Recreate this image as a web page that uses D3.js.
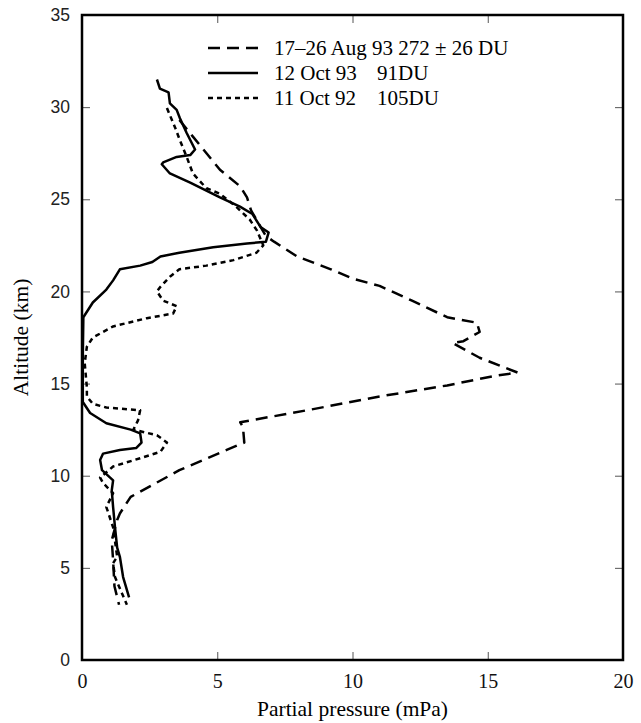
<!DOCTYPE html>
<html>
<head>
<meta charset="utf-8">
<script src="https://cdn.jsdelivr.net/npm/d3@7"></script>
<style>
  body { margin: 0; background: #fff; }
  .tick line { stroke: #555; stroke-width: 1; }
</style>
</head>
<body>
<div id="chart"></div>
<script>
const width = 641
const height = 723
const margin = { top: 15, right: 18, bottom: 63, left: 82 }

// [partial pressure (mPa), altitude (km)]
const aug93 = [
  [3.6, 29.3], [4.1, 28.4], [5.1, 26.6], [5.85, 25.7], [6.1, 25.1], [6.25, 24.4],
  [6.8, 23.0], [7.1, 22.7], [7.95, 21.9], [9.2, 21.2], [10.0, 20.7], [11.0, 20.3],
  [12.2, 19.5], [13.5, 18.6], [14.6, 18.3], [14.7, 17.8], [14.1, 17.3], [13.7, 17.2],
  [14.7, 16.4], [16.1, 15.6], [15.2, 15.4], [13.5, 14.9], [11.0, 14.3], [8.5, 13.6],
  [5.85, 12.9], [5.95, 12.65], [6.0, 11.8], [5.35, 11.4], [3.6, 10.3], [1.8, 8.85],
  [1.4, 7.95], [1.3, 7.6], [1.1, 6.5], [1.15, 5.4], [1.2, 4.0], [1.37, 3.0]
]
const oct93 = [
  [2.77, 31.5], [2.88, 31.0], [3.2, 30.8], [3.25, 30.2], [3.5, 29.85], [3.62, 29.4],
  [3.87, 28.6], [4.18, 27.7], [4.0, 27.4], [3.5, 27.3], [3.0, 27.0], [2.95, 26.9],
  [3.25, 26.4], [4.0, 25.9], [5.1, 25.1], [5.84, 24.6], [6.3, 24.2], [6.6, 23.5],
  [6.9, 23.2], [6.8, 22.7], [6.1, 22.6], [4.85, 22.4], [3.6, 22.1], [2.9, 21.9],
  [2.6, 21.6], [2.15, 21.4], [1.4, 21.2], [1.15, 20.6], [0.9, 20.1], [0.4, 19.4],
  [0.05, 18.6], [0.03, 16.5], [0.03, 14.0], [0.3, 13.4], [0.9, 12.85], [1.8, 12.5],
  [2.15, 12.3], [2.2, 11.8], [2.0, 11.5], [1.4, 11.4], [0.78, 11.2], [0.67, 10.85],
  [0.74, 10.3], [1.04, 9.9], [1.15, 9.75], [1.1, 9.2], [1.15, 8.3], [1.22, 7.2],
  [1.3, 6.1], [1.4, 5.6], [1.52, 4.5], [1.74, 3.4]
]
const oct92 = [
  [3.14, 29.95], [3.44, 28.9], [3.62, 28.2], [3.87, 27.3], [4.1, 26.4], [4.6, 25.6],
  [5.1, 25.3], [5.7, 24.6], [6.2, 23.9], [6.47, 23.3], [6.7, 22.5], [6.45, 22.1],
  [5.6, 21.7], [4.6, 21.4], [3.6, 21.2], [3.25, 20.8], [2.9, 20.25], [2.77, 20.0],
  [3.0, 19.5], [3.5, 19.2], [3.37, 18.8], [2.4, 18.55], [1.15, 18.1], [0.4, 17.5],
  [0.18, 17.0], [0.1, 16.1], [0.18, 14.8], [0.18, 14.3], [0.4, 13.9], [0.9, 13.7],
  [2.15, 13.55], [2.07, 13.0], [1.9, 12.5], [2.77, 12.2], [3.14, 11.8], [2.9, 11.3],
  [2.15, 10.95], [1.15, 10.5], [0.67, 9.9], [0.78, 9.6], [1.15, 9.05], [0.9, 8.3],
  [1.15, 7.2], [1.3, 5.6], [1.15, 5.25], [1.22, 4.5], [1.66, 3.0]
]

const xTicks = [0, 5, 10, 15, 20]
const yTicks = [0, 5, 10, 15, 20, 25, 30, 35]

const legendRows = [
  { label: '17–26 Aug 93 272 ± 26 DU', extra: '', dash: '12,7' },
  { label: '12 Oct 93', extra: '91DU', dash: null },
  { label: '11 Oct 92', extra: '105DU', dash: '5,4' }
]

const x = d3.scaleLinear().domain([0, 20]).range([margin.left, width - margin.right])
const y = d3.scaleLinear().domain([0, 35]).range([height - margin.bottom, margin.top])

const svg = d3.select('#chart').append('svg')
  .attr('width', width)
  .attr('height', height)

const serif = '"Liberation Serif", "Times New Roman", serif'
const sans = '"Liberation Sans", Arial, sans-serif'

// ticks (inward)
svg.append('g')
  .attr('transform', `translate(0,${y(0)})`)
  .call(d3.axisBottom(x).tickValues(xTicks).tickSize(-8).tickPadding(14))
  .call(g => g.select('.domain').remove())
  .call(g => g.selectAll('text').style('font-family', serif).style('font-size', '20px').attr('fill', '#111'))

svg.append('g')
  .attr('transform', `translate(0,${y(35)})`)
  .call(d3.axisTop(x).tickValues([5, 10, 15]).tickSize(-8).tickFormat(''))
  .call(g => g.select('.domain').remove())

svg.append('g')
  .attr('transform', `translate(${x(0)},0)`)
  .call(d3.axisLeft(y).tickValues(yTicks).tickSize(-8).tickPadding(12))
  .call(g => g.select('.domain').remove())
  .call(g => g.selectAll('text').style('font-family', sans).style('font-size', '17.5px').attr('fill', '#222'))

svg.append('g')
  .attr('transform', `translate(${x(20)},0)`)
  .call(d3.axisRight(y).tickValues([5, 10, 15, 20, 25, 30]).tickSize(-8).tickFormat(''))
  .call(g => g.select('.domain').remove())

// frame
svg.append('rect')
  .attr('x', x(0))
  .attr('y', y(35))
  .attr('width', x(20) - x(0))
  .attr('height', y(0) - y(35))
  .attr('fill', 'none')
  .attr('stroke', '#000')
  .attr('stroke-width', 2.5)

const line = d3.line().x(d => x(d[0])).y(d => y(d[1]))

const series = [
  { data: aug93, dash: '12,7' },
  { data: oct93, dash: null },
  { data: oct92, dash: '5,4' }
]

svg.selectAll('path.profile').data(series).enter()
  .append('path')
  .classed('profile', true)
  .attr('d', d => line(d.data))
  .attr('fill', 'none')
  .attr('stroke', '#000')
  .attr('stroke-width', 2.5)
  .attr('stroke-linejoin', 'round')
  .attr('stroke-dasharray', d => d.dash)

// legend
const lg = svg.selectAll('g.legend').data(legendRows).enter()
  .append('g')
  .classed('legend', true)
  .attr('transform', (d, i) => `translate(208,${48 + i * 25})`)

lg.append('line')
  .attr('x1', 0).attr('x2', 50)
  .attr('stroke', '#000')
  .attr('stroke-width', 2.6)
  .attr('stroke-dasharray', d => d.dash)

lg.append('text')
  .attr('x', 66)
  .attr('dy', 7)
  .style('font-family', serif)
  .style('font-size', '21px')
  .text(d => d.label)

lg.append('text')
  .attr('x', 169)
  .attr('dy', 7)
  .style('font-family', serif)
  .style('font-size', '21px')
  .text(d => d.extra)

// axis titles
svg.append('text')
  .attr('x', (x(0) + x(20)) / 2)
  .attr('y', 716)
  .attr('text-anchor', 'middle')
  .style('font-family', serif)
  .style('font-size', '21.5px')
  .text('Partial pressure (mPa)')

svg.append('text')
  .attr('transform', `translate(28,${(y(0) + y(35)) / 2}) rotate(-90)`)
  .attr('text-anchor', 'middle')
  .style('font-family', serif)
  .style('font-size', '21.5px')
  .text('Altitude (km)')
</script>
</body>
</html>
